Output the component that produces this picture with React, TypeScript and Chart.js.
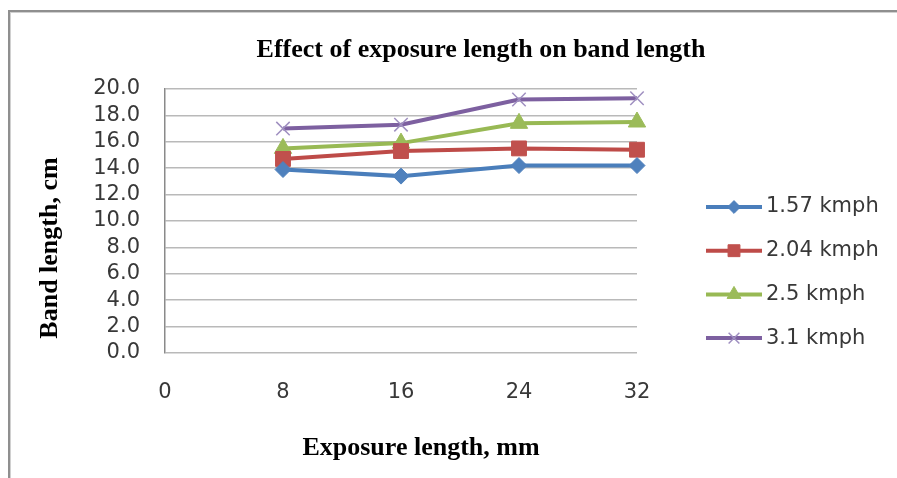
import React, { useEffect, useRef } from 'react';
import { Chart, registerables } from 'chart.js';
import { drawPoint } from 'chart.js/helpers';

Chart.register(...registerables);

const chartTitle = 'Effect of exposure length on band length';
const xAxisTitle = 'Exposure length, mm';
const yAxisTitle = 'Band length, cm';

const exposureLengths = [8, 16, 24, 32];
const seriesNames = ['1.57 kmph', '2.04 kmph', '2.5 kmph', '3.1 kmph'];
const speed157 = [13.9, 13.4, 14.2, 14.2];
const speed204 = [14.7, 15.3, 15.5, 15.4];
const speed250 = [15.5, 15.9, 17.4, 17.5];
const speed310 = [17.0, 17.3, 19.2, 19.3];
const xTickValues = [0, 8, 16, 24, 32];
const yTickValues = [0, 2, 4, 6, 8, 10, 12, 14, 16, 18, 20];

const SANS = '"DejaVu Sans", sans-serif';
const SERIF = '"Liberation Serif", "Times New Roman", serif';
const TEXT = '#383838';

const seriesStyles = [
  { line: '#4A7EBB', fill: '#4F81BD', border: '#4F81BD', style: 'rectRot', radius: 8, bw: 1 },
  { line: '#BE4B48', fill: '#C0504D', border: '#C0504D', style: 'rect', radius: 10.5, bw: 1 },
  { line: '#98B954', fill: '#9BBB59', border: '#9BBB59', style: 'triangle', radius: 10, bw: 1 },
  { line: '#7D60A0', fill: 'rgba(0,0,0,0)', border: '#9F8FC0', style: 'crossRot', radius: 9.5, bw: 1.5 },
];

const seriesValues = [speed157, speed204, speed250, speed310];

const legendPlugin = {
  id: 'lineLegend',
  afterDraw(chart: any) {
    const { ctx, chartArea } = chart;
    const x0 = chartArea.right + 69;
    const lineLen = 56;
    const y0 = chartArea.top + 118;
    const gap = 43.7;
    chart.data.datasets.forEach((ds: any, i: number) => {
      const y = y0 + i * gap;
      ctx.save();
      ctx.strokeStyle = ds.borderColor;
      ctx.lineWidth = ds.borderWidth;
      ctx.beginPath();
      ctx.moveTo(x0, y);
      ctx.lineTo(x0 + lineLen, y);
      ctx.stroke();
      ctx.fillStyle = ds.pointBackgroundColor;
      ctx.strokeStyle = ds.pointBorderColor;
      ctx.lineWidth = ds.pointBorderWidth;
      drawPoint(
        ctx,
        { pointStyle: ds.pointStyle, radius: ds.pointRadius * 0.8, rotation: 0, borderWidth: ds.pointBorderWidth } as any,
        x0 + lineLen / 2,
        y
      );
      ctx.fillStyle = TEXT;
      ctx.font = `21px ${SANS}`;
      ctx.textBaseline = 'middle';
      ctx.textAlign = 'left';
      ctx.fillText(ds.label, x0 + lineLen + 4, y);
      ctx.restore();
    });
  },
};

const titlesPlugin = {
  id: 'titles',
  afterDraw(chart: any) {
    const { ctx, chartArea } = chart;
    const midY = (chartArea.top + chartArea.bottom) / 2;
    ctx.save();
    ctx.fillStyle = '#000';
    ctx.font = `bold 26px ${SERIF}`;
    ctx.textAlign = 'center';
    ctx.textBaseline = 'middle';
    ctx.fillText(chartTitle, chartArea.right - 156, chartArea.top - 39);
    ctx.fillText(xAxisTitle, chartArea.right - 216, chartArea.bottom + 95);
    ctx.translate(chartArea.left - 115, midY + 27);
    ctx.rotate(-Math.PI / 2);
    ctx.fillText(yAxisTitle, 0, 0);
    ctx.restore();
  },
};

export default function App() {
  const canvasRef = useRef<HTMLCanvasElement | null>(null);

  useEffect(() => {
    if (!canvasRef.current) return;
    const chart = new Chart(canvasRef.current, {
      type: 'line',
      data: {
        datasets: seriesNames.map((name, i) => ({
          label: name,
          data: exposureLengths.map((x, j) => ({ x, y: seriesValues[i][j] })),
          borderColor: seriesStyles[i].line,
          borderWidth: 4,
          backgroundColor: seriesStyles[i].fill,
          pointStyle: seriesStyles[i].style as any,
          pointRadius: seriesStyles[i].radius,
          pointBackgroundColor: seriesStyles[i].fill,
          pointBorderColor: seriesStyles[i].border,
          pointBorderWidth: seriesStyles[i].bw,
          tension: 0,
          fill: false,
          clip: false as any,
        })),
      },
      options: {
        animation: false,
        responsive: true,
        maintainAspectRatio: false,
        layout: { padding: { left: 0, right: 260, top: 89, bottom: 0 } },
        plugins: {
          legend: { display: false },
          tooltip: { enabled: false },
          title: { display: false },
        },
        scales: {
          x: {
            type: 'linear',
            min: 0,
            max: 32,
            afterBuildTicks: (s: any) => {
              s.ticks = xTickValues.map((v) => ({ value: v }));
            },
            afterFit: (s: any) => {
              s.height = 125;
            },
            grid: { display: false, drawTicks: false },
            border: { display: false },
            ticks: {
              autoSkip: false,
              padding: 27,
              color: TEXT,
              font: { family: SANS, size: 21 },
              maxRotation: 0,
              callback: (v: any) => String(v),
            },
          },
          y: {
            type: 'linear',
            min: 0,
            max: 20,
            afterBuildTicks: (s: any) => {
              s.ticks = yTickValues.map((v) => ({ value: v }));
            },
            afterFit: (s: any) => {
              s.width = 165;
            },
            grid: { color: '#b9b9b9', lineWidth: 1.5, drawTicks: false },
            border: { display: true, color: '#8a8a8a', width: 1.5 },
            ticks: {
              autoSkip: false,
              padding: 25,
              color: TEXT,
              font: { family: SANS, size: 21 },
              callback: (v: any) => Number(v).toFixed(1),
            },
          },
        },
      },
      plugins: [legendPlugin, titlesPlugin],
    });
    return () => chart.destroy();
  }, []);

  return (
    <div style={{ position: 'absolute', left: 0, top: 0, width: 897, height: 478, background: '#fff', overflow: 'hidden' }}>
      <canvas ref={canvasRef} />
      <div
        style={{
          position: 'absolute',
          left: 8,
          top: 10,
          width: 900,
          height: 480,
          borderTop: '2px solid #8f8f8f',
          borderLeft: '2px solid #8f8f8f',
          boxShadow: 'inset 1px 1px 0 #d0d0d0',
          pointerEvents: 'none',
        }}
      />
    </div>
  );
}
